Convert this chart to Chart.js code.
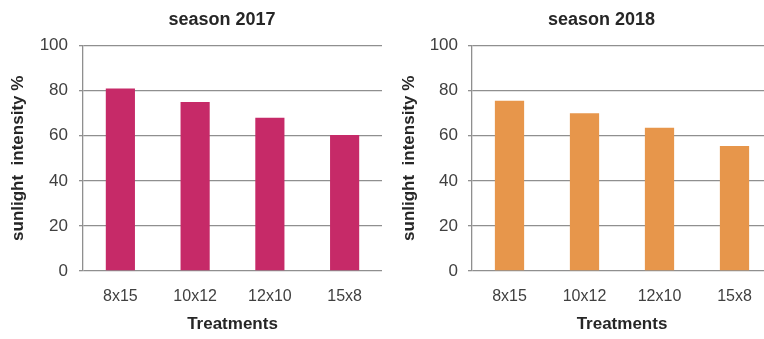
<!DOCTYPE html>
<html>
<head>
<meta charset="utf-8">
<script src="https://cdn.jsdelivr.net/npm/chart.js@4/dist/chart.umd.min.js"></script>
<style>
  html, body { margin: 0; padding: 0; background: #fff; overflow: hidden; }
  body { width: 764px; height: 339px; position: relative; }
  canvas { position: absolute; top: 0; }
  #c2017 { left: 0; }
  #c2018 { left: 390px; }
</style>
</head>
<body>
<canvas id="c2017" width="444" height="339"></canvas>
<canvas id="c2018" width="423" height="339"></canvas>
<script>
const treatments = ["8x15", "10x12", "12x10", "15x8"];
const season2017 = [81, 75, 68, 60.3];
const season2018 = [75.5, 70, 63.5, 55.5];
const yMin = 0;
const yMax = 100;
const yStep = 20;

const FONT = "'Liberation Sans', Arial, sans-serif";
const GRID = "#8f8f8f";

// center the chart title over the whole canvas, not only the padded area
const wideTitle = {
  id: "wideTitle",
  afterLayout(chart) {
    const t = chart.titleBlock;
    if (t) {
      t.left = 0;
      t.right = chart.width;
      t.width = chart.width;
    }
  },
};

function makeChart(id, title, values, color, side) {
  return new Chart(document.getElementById(id), {
    type: "bar",
    data: {
      labels: treatments,
      datasets: [
        {
          label: title,
          data: values,
          backgroundColor: color,
          borderWidth: 0,
          barPercentage: 0.39,
          categoryPercentage: 1,
        },
      ],
    },
    plugins: [wideTitle],
    options: {
      responsive: false,
      animation: false,
      devicePixelRatio: 1,
      layout: {
        padding: { left: 0, right: side.right, top: 0, bottom: 2 },
      },
      plugins: {
        legend: { display: false },
        tooltip: { enabled: false },
        title: {
          display: true,
          text: title,
          color: "#262626",
          font: { family: FONT, size: 18, weight: "bold" },
          padding: { top: 9, bottom: 15 },
        },
      },
      scales: {
        x: {
          afterFit: (scale) => {
            scale.height = 66;
          },
          grid: { display: false, drawTicks: false },
          border: { display: false },
          ticks: {
            color: "#404040",
            font: { family: FONT, size: 16 },
            padding: 16,
          },
          title: {
            display: true,
            text: "Treatments",
            color: "#262626",
            font: { family: FONT, size: 17, weight: "bold" },
            padding: { top: 7, bottom: 2 },
          },
        },
        y: {
          min: yMin,
          max: yMax,
          afterFit: (scale) => {
            scale.width = side.axisX;
          },
          grid: {
            color: GRID,
            lineWidth: 1.3,
            drawTicks: true,
            tickLength: 4,
          },
          border: { display: true, color: GRID, width: 1.3 },
          ticks: {
            stepSize: yStep,
            color: "#404040",
            font: { family: FONT, size: 17 },
            padding: side.tickPad,
          },
          title: {
            display: true,
            text: "sunlight  intensity %",
            color: "#262626",
            font: { family: FONT, size: 17, weight: "bold" },
            padding: { top: side.titlePad, bottom: 0 },
          },
        },
      },
    },
  });
}

makeChart("c2017", "season 2017", season2017, "#c62a68", { right: 62, axisX: 83, tickPad: 11, titlePad: 8 });
makeChart("c2018", "season 2018", season2018, "#e7964b", { right: 41, axisX: 82, tickPad: 10, titlePad: 9 });
</script>
</body>
</html>
